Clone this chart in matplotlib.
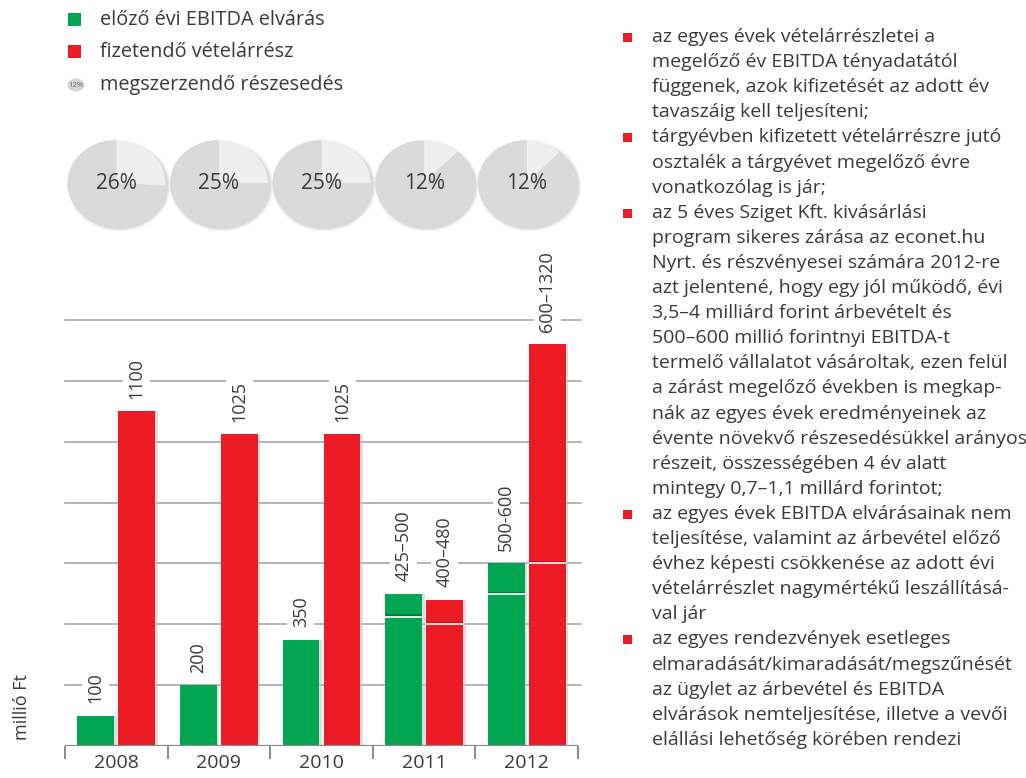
import matplotlib
matplotlib.use("Agg")
import matplotlib.pyplot as plt
from matplotlib.patches import Ellipse, Rectangle
import numpy as np

plt.rcParams['font.family'] = ['Open Sans', 'DejaVu Sans']

# ---------------- data ----------------
years = ['2008', '2009', '2010', '2011', '2012']
ebitda_low = [100, 200, 350, 425, 500]
ebitda_high = [100, 200, 350, 500, 600]
payment_low = [1100, 1025, 1025, 400, 600]
payment_high = [1100, 1025, 1025, 480, 1320]
ebitda_labels = ['100', '200', '350', '425–500', '500-600']
payment_labels = ['1100', '1025', '1025', '400–480', '600–1320']
shares = [26, 25, 25, 12, 12]
grid_values = [200, 400, 600, 800, 1000, 1200, 1400]

legend_labels = ['előző évi EBITDA elvárás', 'fizetendő vételárrész', 'megszerzendő részesedés']
y_label = 'millió Ft'

bullets = [
    ['az egyes évek vételárrészletei a',
     'megelőző év EBITDA tényadatától',
     'függenek, azok kifizetését az adott év',
     'tavaszáig kell teljesíteni;'],
    ['tárgyévben kifizetett vételárrészre jutó',
     'osztalék a tárgyévet megelőző évre',
     'vonatkozólag is jár;'],
    ['az 5 éves Sziget Kft. kivásárlási',
     'program sikeres zárása az econet.hu',
     'Nyrt. és részvényesei számára 2012-re',
     'azt jelentené, hogy egy jól működő, évi',
     '3,5–4 milliárd forint árbevételt és',
     '500–600 millió forintnyi EBITDA-t',
     'termelő vállalatot vásároltak, ezen felül',
     'a zárást megelőző években is megkap-',
     'nák az egyes évek eredményeinek az',
     'évente növekvő részesedésükkel arányos',
     'részeit, összességében 4 év alatt',
     'mintegy 0,7–1,1 millárd forintot;'],
    ['az egyes évek EBITDA elvárásainak nem',
     'teljesítése, valamint az árbevétel előző',
     'évhez képesti csökkenése az adott évi',
     'vételárrészlet nagymértékű leszállításá-',
     'val jár'],
    ['az egyes rendezvények esetleges',
     'elmaradását/kimaradását/megszűnését',
     'az ügylet az árbevétel és EBITDA',
     'elvárások nemteljesítése, illetve a vevői',
     'elállási lehetőség körében rendezi'],
]

# ---------------- style ----------------
GREEN = '#00a651'
RED = '#ed1c24'
TXT = '#3a3a3a'
GRID = '#a8a8a8'
W, H = 1026, 778

fig = plt.figure(figsize=(W / 100, H / 100), dpi=100)
fig.patch.set_facecolor('white')


def fx(px):
    return px / W


def fy(py):
    return 1 - py / H


# ---------------- main bar axes ----------------
ax_left, ax_right = 65, 578
ax_bottom_px, ax_top_px = 746, 244
ymax = 1650
ax = fig.add_axes([fx(ax_left), fy(ax_bottom_px), (ax_right - ax_left) / W,
                   (ax_bottom_px - ax_top_px) / H])
ax.set_xlim(-0.5, 4.5)
ax.set_ylim(0, ymax)
for s in ax.spines.values():
    s.set_visible(False)
ax.patch.set_alpha(0)

x = np.arange(len(years))
bw = 0.36
off = 0.2

for g in grid_values:
    ax.axhline(g, color=GRID, lw=1.2, zorder=0, xmax=1.005, clip_on=False)

ax.axhline(0, color='#8a8a8a', lw=1.6, zorder=3)

# shadows
ax.bar(x - off + 0.025, ebitda_high, width=bw, color='#c8c8c8', alpha=0.6, zorder=1, linewidth=0)
ax.bar(x + off + 0.025, payment_high, width=bw, color='#c8c8c8', alpha=0.6, zorder=1, linewidth=0)
# bars
ax.bar(x - off, ebitda_high, width=bw, color=GREEN, zorder=2, linewidth=0)
ax.bar(x + off, payment_high, width=bw, color=RED, zorder=2, linewidth=0)

# range markers
for xi, lo, hi, dark in [(x - off, ebitda_low, ebitda_high, '#00733a'),
                         (x + off, payment_low, payment_high, '#a8141a')]:
    for xc, l, h in zip(xi, lo, hi):
        if l != h:
            ax.plot([xc - bw / 2, xc + bw / 2], [l + 4, l + 4], color=dark, lw=1.2, zorder=2.5,
                    solid_capstyle='butt')
            ax.plot([xc - bw / 2, xc + bw / 2], [l, l], color='white', lw=1.2, zorder=2.6,
                    solid_capstyle='butt')

# value labels
for xs, hs, labs in [(x - off, ebitda_high, ebitda_labels), (x + off, payment_high, payment_labels)]:
    for xc, h, lab in zip(xs, hs, labs):
        ax.annotate(lab, (xc, h), xytext=(0, 9), textcoords='offset points', rotation=90,
                    ha='center', va='bottom', fontsize=13, color=TXT, zorder=4,
                    bbox=dict(boxstyle='square,pad=0.25', fc='white', ec='none'))

# ticks
ax.set_xticks(np.arange(-0.5, 5.0, 1.0))
ax.set_xticklabels([])
ax.tick_params(axis='x', which='major', length=9, width=1.4, color='#8a8a8a', direction='out')
ax.set_xticks(x, minor=True)
ax.set_xticklabels(years, minor=True, fontsize=14, color=TXT)
ax.tick_params(axis='x', which='minor', length=0, pad=6)
ax.set_yticks([])

fig.text(fx(22), fy(707), y_label, rotation=90, ha='center', va='center', fontsize=13, color=TXT)

# ---------------- pies ----------------
pie_w, pie_h, pie_cy = 98, 86, 183
centers_px = [ax_left + (i + 0.5) * (ax_right - ax_left) / 5 for i in range(5)]
for cx, sh in zip(centers_px, shares):
    pax = fig.add_axes([fx(cx - pie_w / 2), fy(pie_cy + pie_h / 2), pie_w / W, pie_h / H])
    # soft shadow
    for k, a in enumerate([0.10, 0.08, 0.06, 0.04]):
        pax.add_patch(Ellipse((0.06, -0.07), 2.0 + 0.04 * k, 2.0 + 0.04 * k,
                              fc='#707070', ec='none', alpha=a, zorder=0, clip_on=False))
    wedges, _ = pax.pie([sh, 100 - sh], startangle=90, counterclock=False,
                        colors=['#efefef', '#dadada'], radius=1,
                        wedgeprops=dict(linewidth=0))
    for wdg in wedges:
        wdg.set_zorder(2)
    pax.set_aspect('auto')
    pax.set_xlim(-1, 1)
    pax.set_ylim(-1, 1)
    pax.axis('off')
    pax.text(0, -0.02, f'{sh}%', ha='center', va='center', fontsize=15, color=TXT, zorder=3)

# ---------------- legend ----------------
lax = fig.add_axes([0, 0, 1, 1])
lax.set_xlim(0, W)
lax.set_ylim(H, 0)
lax.axis('off')
lax.patch.set_alpha(0)
leg_y = [20, 52, 85]
lax.add_patch(Rectangle((68, leg_y[0] - 7), 13, 13, fc=GREEN, ec='none'))
lax.add_patch(Rectangle((68, leg_y[1] - 7), 13, 13, fc=RED, ec='none'))
lax.add_patch(Ellipse((76, leg_y[2]), 17, 13, fc='#d6d6d6', ec='none'))
lax.text(76, leg_y[2], '12%', ha='center', va='center', fontsize=5.5, color='#666666')
for yy, lab in zip(leg_y, legend_labels):
    lax.text(100, yy, lab, ha='left', va='center', fontsize=14.3, color=TXT)

# ---------------- right bullet text ----------------
line_y0 = 37
line_dy = 25.1
i = 0
for block in bullets:
    yb = line_y0 + i * line_dy
    lax.add_patch(Rectangle((623, yb - 4), 9, 9, fc=RED, ec='none'))
    for line in block:
        lax.text(652, line_y0 + i * line_dy, line, ha='left', va='center',
                 fontsize=14, color=TXT)
        i += 1

fig.savefig('out.png', dpi=100, facecolor='white')
